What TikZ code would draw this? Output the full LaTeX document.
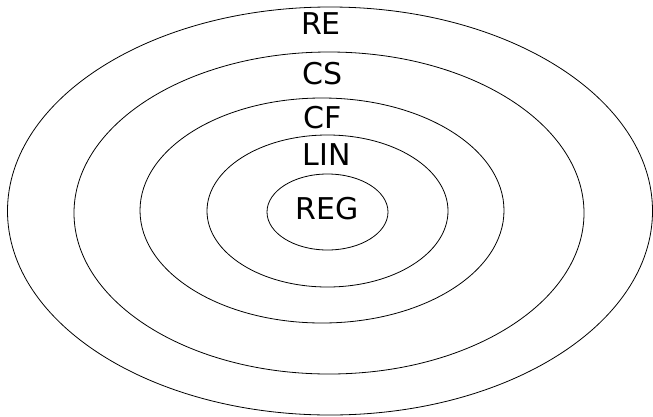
\documentclass[tikz,border=0pt]{standalone}
\usepackage{fontspec}
\setmainfont{DejaVu Sans}
\usepackage{tikz}
\usetikzlibrary{shapes.geometric, positioning}

\begin{document}
\begin{tikzpicture}[ x=1pt, y=-1pt, langset/.style={ellipse, draw=black,
      line width=0.8pt, inner sep=0pt}, langlabel/.style={inner sep=0pt,
      font=\fontsize{30pt}{36pt}\selectfont, text=black} ]

    \useasboundingbox (0,0) rectangle (653,416);

    % Language classes, outermost first
    \node[langset, minimum width=645pt, minimum height=408pt] (re) at
    (330,211) {}; \node[langset, minimum width=510pt, minimum height=322pt]
    (cs) at (329,213) {}; \node[langset, minimum width=364pt, minimum
    height=225pt] (cf) at (322,210.5) {}; \node[langset, minimum width=241pt,
    minimum height=152pt] (lin) at (327.5,211) {}; \node[langset, minimum
    width=121pt, minimum height=76pt] (reg) at (327.5,212) {};

    % Class names
    \node[langlabel] (relabel) at (321,24) {RE}; \node[langlabel] (cslabel) at
    (322.5,74) {CS}; \node[langlabel] (cflabel) at (322.5,117.5) {CF};
    \node[langlabel] (linlabel) at (326.5,155) {LIN}; \node[langlabel]
    (reglabel) at (327.5,208.5) {REG};

    \end{tikzpicture}
\end{document}
